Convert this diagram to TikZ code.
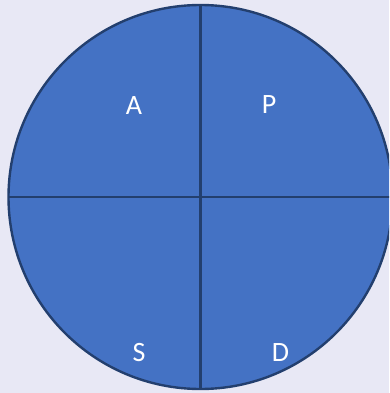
\documentclass[tikz,border=0pt]{standalone}
\usepackage{fontspec}
\setmainfont{Carlito}
\definecolor{bgc}{HTML}{E8E8F5}
\definecolor{fillc}{HTML}{4472C4}
\definecolor{linec}{HTML}{233F6E}
\begin{document}
\begin{tikzpicture}[x=1pt,y=-1pt,
  lbl/.style={text=white,font=\fontsize{28}{30}\selectfont,inner sep=0pt,anchor=base}]
\useasboundingbox (0,0) rectangle (389,393);
\fill[bgc] (0,0) rectangle (389,393);
\clip (0,0) rectangle (389,393);
\coordinate (c) at (200.5,197);
\draw[fill=fillc,draw=linec,line width=2.4pt] (c) circle (192);
\coordinate (t) at (200.5,5);
\coordinate (b) at (200.5,389);
\coordinate (l) at (8.5,197);
\coordinate (r) at (392.5,197);
\draw[linec,line width=2.4pt] (t) -- (b);
\draw[linec,line width=2.4pt] (l) -- (r);
\node[lbl] (A) at (134,114) {A};
\node[lbl] (P) at (269,113.5) {P};
\node[lbl] (S) at (139,361.5) {S};
\node[lbl] (D) at (280.5,361.5) {D};
\end{tikzpicture}
\end{document}
